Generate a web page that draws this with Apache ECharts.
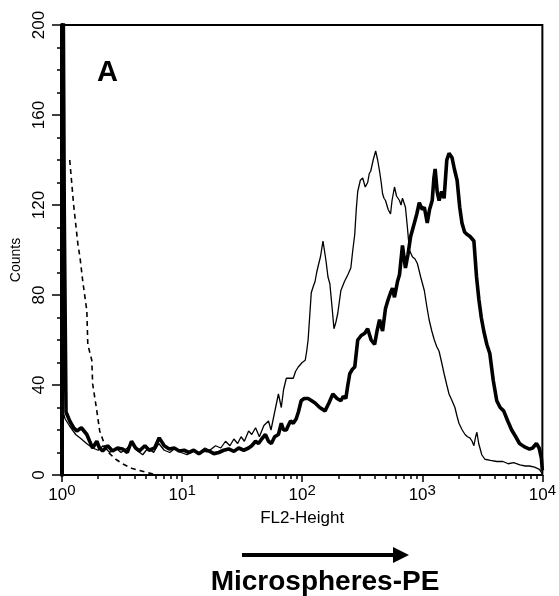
<!DOCTYPE html>
<html>
<head>
<meta charset="utf-8">
<script src="https://cdn.jsdelivr.net/npm/echarts@6/dist/echarts.min.js"></script>
<style>
html,body{margin:0;padding:0;background:#fff;}
#chart{width:559px;height:596px;}
</style>
</head>
<body>
<div id="chart"></div>
<script>
// FL2-Height (x) vs Counts (y)
const thickCurve = [[1.02,230],[1.04,230],[1.045,115],[1.065,115],[1.08,28],[1.16,24],[1.25,21],[1.33,19.6],[1.45,21],[1.61,18],[1.7,15],[1.8,12],[1.95,15],[2.05,12],[2.18,10.7],[2.4,13],[2.64,10.7],[2.9,12],[3.19,11.6],[3.5,10],[3.79,15],[4.1,12],[4.41,10.7],[4.9,13],[5.33,11],[5.9,12],[6.45,16.5],[7.1,13],[7.81,11.6],[8.6,12],[9.45,10.7],[10.4,11],[11.4,10],[12.5,11],[13.8,9.4],[15.2,11],[16.7,10.7],[18.4,9.5],[20.2,10],[22.2,11],[24.4,11.6],[27,10.5],[29.6,12],[32.6,11],[35.8,12],[38,13],[40.9,15],[43.3,14],[46,16],[49.4,18],[52.4,15],[55.4,14],[59,17],[63.4,18],[67,23],[70,20],[73.8,20],[76.6,22],[80,24],[84.3,23],[89.2,25],[93,28],[98.1,33],[104,34],[112,34],[120,33],[128,32],[140,30],[155,28.5],[167,32],[180,36],[195,34],[210,33],[220,35],[231,34],[240,40],[249,45],[262,47],[274,48],[290,60],[310,62],[332,63],[351,65],[375,60],[401,58],[420,64],[441,69],[467,64],[494,74],[520,78],[544,81],[565,83],[587,79],[622,86],[646,89],[684,102],[724,92],[760,98],[800,106],[859,112],[900,116],[944,121],[1000,118],[1040,119],[1100,112],[1150,118],[1210,122],[1250,132],[1280,136],[1330,126],[1380,122],[1450,126],[1520,123],[1600,140],[1670,143],[1770,141],[1850,136],[1950,131],[2050,119],[2140,112],[2250,108],[2350,107],[2500,106],[2690,104],[2830,88],[2960,78],[3100,70],[3250,64],[3450,58],[3650,54],[3900,42],[4170,33],[4450,30],[4760,28.5],[5150,24],[5550,20],[6000,17],[6450,14],[7100,12.5],[7810,11.5],[8300,12],[8920,14],[9400,12],[9810,7.5],[10000,2]];

const thinCurve = [[1,30],[1.06,25],[1.15,22],[1.3,18],[1.45,16],[1.6,14],[1.8,12],[2.0,11],[2.2,13],[2.5,10],[2.8,12],[3.1,10],[3.5,12],[3.8,14],[4.2,11],[4.7,9],[5.2,12],[5.8,10],[6.4,14],[7.1,11],[7.9,10],[8.8,12],[9.8,10],[11,9],[12.5,11],[14,10],[15.5,12],[17,11],[19,13],[21,12],[23,15],[25,13],[27,16],[29,14],[31,17],[33,15],[35.8,19.6],[38,18],[40.9,21],[44,17],[48,22],[52.4,24],[55,20],[59,28],[63.4,36],[67,30],[70,38],[73.8,43],[79,43],[84.3,43],[88,46],[92.7,48],[100,50],[106,51],[109,55],[112,60],[116,72],[119,81],[124,84],[128,86],[132,90],[136,93],[142,97],[149,104],[153,100],[158,95],[164,88],[170,85],[177,75],[184,65],[191,68],[198,72],[210,82],[225,86],[240,89],[254,92],[264,100],[274,107],[282,118],[290,126],[305,131],[319,132],[335,128],[351,130],[362,134],[372,135],[390,140],[409,144],[425,140],[441,135],[455,130],[467,125],[480,123],[494,122],[520,118],[544,116],[560,122],[587,128],[610,124],[646,122],[665,120],[684,123],[704,121],[724,119],[752,110],[781,100],[827,97],[870,96],[910,94],[970,88],[1040,82],[1090,75],[1140,69],[1200,64],[1260,60],[1320,57],[1380,55],[1450,50],[1520,45],[1600,40],[1670,36],[1770,33],[1870,30],[1950,26],[2020,23],[2150,20],[2270,18],[2380,17],[2490,16.5],[2600,15],[2690,13],[2780,17],[2850,19],[2950,14],[3130,9],[3320,7],[3700,6.5],[4170,6],[4700,6],[5200,5],[5760,5.5],[6500,4.5],[7200,4],[7810,4],[8600,3.5],[9450,2.5],[10000,0.5]];

const dashedCurve = [[1.16,140],[1.25,120],[1.36,102],[1.41,97],[1.49,86],[1.61,73],[1.64,58],[1.77,51],[1.80,40.5],[1.95,28.5],[2.06,19.6],[2.36,10.7],[2.8,7],[3.19,5],[3.8,3],[4.42,2],[5.2,1],[6.1,0],[10000,0]];

const xDecadeExponents = [0, 1, 2, 3, 4];
const yRange = [0, 200];
const yLabelStep = 40;
const yMinorStep = 10;

const xTitle = 'FL2-Height';
const yTitle = 'Counts';
const panelLabel = 'A';
const bottomLabel = 'Microspheres-PE';

// build
const toLog = d => d.map(p => [Math.log10(p[0]), p[1]]);
const minorVals = [];
for (let n = 0; n < 4; n++) for (let k = 2; k <= 9; k++) minorVals.push(Math.log10(k * Math.pow(10, n)));

const FONT = 'Liberation Sans, Arial, Helvetica, sans-serif';
const chart = echarts.init(document.getElementById('chart'), null, {renderer: 'canvas'});
const lineBase = {type: 'line', showSymbol: false, symbol: 'none', animation: false, clip: true, silent: true};

chart.setOption({
  animation: false,
  backgroundColor: '#fff',
  textStyle: {fontFamily: FONT, color: '#000'},
  grid: {left: 62, right: 13, top: 25, bottom: 121, show: true, borderColor: '#000', borderWidth: 2, backgroundColor: 'transparent'},
  xAxis: [{
    type: 'value', min: 0, max: 4, interval: 1,
    axisLine: {show: true, onZero: false, lineStyle: {color: '#000', width: 1.5}},
    axisTick: {show: true, customValues: xDecadeExponents, length: 7, lineStyle: {color: '#000', width: 1.5}},
    splitLine: {show: false},
    axisLabel: {
      customValues: xDecadeExponents, margin: 8, color: '#000',
      formatter: v => '{b|10}{s|' + v + '}',
      rich: {
        b: {fontSize: 17, lineHeight: 21, verticalAlign: 'bottom', fontFamily: FONT, color: '#000'},
        s: {fontSize: 15, lineHeight: 15, verticalAlign: 'top', fontFamily: FONT, color: '#000'}
      }
    },
    name: xTitle, nameLocation: 'middle', nameGap: 35,
    nameTextStyle: {fontSize: 17, color: '#000', fontFamily: FONT}
  }, {
    type: 'value', min: 0, max: 4, position: 'bottom',
    axisLine: {show: false, onZero: false},
    axisTick: {show: true, customValues: minorVals, length: 4, lineStyle: {color: '#000', width: 1.5}},
    axisLabel: {show: false},
    splitLine: {show: false}
  }],
  yAxis: {
    type: 'value', min: yRange[0], max: yRange[1], interval: yLabelStep,
    axisLine: {show: true, lineStyle: {color: '#000', width: 4}},
    axisTick: {show: true, length: 10, lineStyle: {color: '#000', width: 1.5}},
    minorTick: {show: true, splitNumber: yLabelStep / yMinorStep, length: 5, lineStyle: {color: '#000', width: 1.5}},
    splitLine: {show: false},
    axisLabel: {rotate: 90, margin: 14, fontSize: 17, color: '#000', fontFamily: FONT},
    name: yTitle, nameLocation: 'middle', nameGap: 33,
    nameTextStyle: {fontSize: 14, color: '#000', fontFamily: FONT, padding: [0, 20, 0, 0]}
  },
  series: [
    Object.assign({}, lineBase, {name: 'control', data: toLog(dashedCurve), z: 2,
      lineStyle: {color: '#000', width: 1.6, type: [5, 4]}}),
    Object.assign({}, lineBase, {name: 'thin', data: toLog(thinCurve), z: 3,
      lineStyle: {color: '#000', width: 1.3}}),
    Object.assign({}, lineBase, {name: 'thick', data: toLog(thickCurve), z: 4,
      lineStyle: {color: '#000', width: 3.6}})
  ],
  graphic: [
    {type: 'text', left: 97, top: 58, style: {text: panelLabel, font: 'bold 29px ' + FONT, fill: '#000'}},
    {type: 'line', shape: {x1: 242, y1: 555, x2: 396, y2: 555}, style: {stroke: '#000', lineWidth: 4}},
    {type: 'polygon', shape: {points: [[393, 547], [409, 555], [393, 563]]}, style: {fill: '#000'}},
    {type: 'text', x: 325, y: 582, style: {text: bottomLabel, font: 'bold 28px ' + FONT, fill: '#000', align: 'center', verticalAlign: 'middle'}}
  ]
});
</script>
</body>
</html>
